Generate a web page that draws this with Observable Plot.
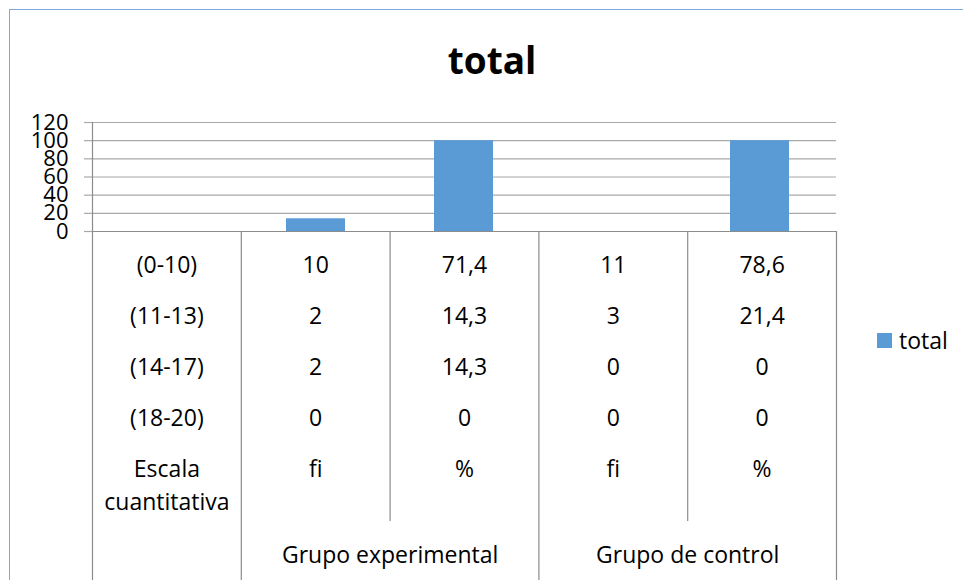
<!DOCTYPE html>
<html><head><meta charset="utf-8">
<script src="https://cdn.jsdelivr.net/npm/d3@7"></script>
<script src="https://cdn.jsdelivr.net/npm/@observablehq/plot@0.6"></script>
<style>
body{margin:0;background:#fff;overflow:hidden;font-family:"Open Sans",sans-serif;color:#000;}
#chart{position:relative;width:963px;height:580px;overflow:hidden;background:#fff;}
#frame{position:absolute;left:9px;top:9px;width:1200px;height:1200px;border-left:1.5px solid #7ea9de;border-top:1.5px solid #7ea9de;}
#title{position:absolute;left:0;width:984px;top:41px;text-align:center;font-weight:700;font-size:37px;line-height:1;}
#chartTop{position:absolute;left:0;top:0;}
#chartBottom{position:absolute;left:0;top:231px;}
#legend{position:absolute;left:877px;top:325px;display:flex;align-items:center;font-size:23px;line-height:30px;}
#legend .sw{width:15px;height:15px;background:#5b9bd5;margin-right:7px;display:inline-block;}
</style></head>
<body>
<div id="chart">
<div id="frame"></div>
<div id="title">total</div>
<div id="chartTop"></div>
<div id="chartBottom"></div>
<div id="legend"><span class="sw"></span><span>total</span></div>
</div>
<script>
// ---- data ----
const categories = ["Escala", "GE fi", "GE %", "GC fi", "GC %"];
const totals = [null, 14, 100, null, 100];
const yTicks = [0, 20, 40, 60, 80, 100, 120];
const rowLabels = ["(0-10)", "(11-13)", "(14-17)", "(18-20)", "Escala\ncuantitativa"];
const expFi = ["10", "2", "2", "0", "fi"];
const expPct = ["71,4", "14,3", "14,3", "0", "%"];
const ctrlFi = ["11", "3", "0", "0", "fi"];
const ctrlPct = ["78,6", "21,4", "0", "0", "%"];
const groups = ["Grupo experimental", "Grupo de control"];
const groupSpans = [[1, 3], [3, 5]];
const fullDividers = [0, 1, 3, 5];
const shortDividers = [2, 4];

// ---- derived tables ----
const barData = categories.map((c, i) => ({cat: c, total: totals[i]})).filter(d => d.total != null);
const columns = [rowLabels, expFi, expPct, ctrlFi, ctrlPct];
const cells = [];
columns.forEach((col, ci) => col.forEach((label, ri) => cells.push({col: ci, row: ri, label})));
const groupData = groups.map((g, i) => ({label: g, x: (groupSpans[i][0] + groupSpans[i][1]) / 2}));

const FONT = "Open Sans";
const W = 963, ML = 92, MR = 127;

const plotTop = Plot.plot({
  width: W, height: 241, marginLeft: ML, marginRight: MR, marginTop: 122, marginBottom: 10,
  style: {background: "transparent", overflow: "visible", fontFamily: FONT, color: "#000"},
  x: {type: "band", domain: categories, paddingInner: 0.6, paddingOuter: 0.3, axis: null},
  y: {domain: [0, 120], axis: null},
  marks: [
    Plot.gridY(yTicks, {stroke: "#a8a8a8", strokeOpacity: 1, strokeWidth: 1.2}),
    Plot.axisY(yTicks, {tickSize: 8, tickPadding: 16, stroke: "#a8a8a8", strokeWidth: 1.2, fill: "#000", fontSize: 22, label: null, tickFormat: d => String(d)}),
    Plot.barY(barData, {x: "cat", y: "total", fill: "#5b9bd5"}),
    Plot.ruleY([0], {stroke: "#8c8c8c", strokeWidth: 1.2}),
    Plot.frame({anchor: "left", stroke: "#8c8c8c", strokeWidth: 1.2})
  ]
});
document.getElementById("chartTop").appendChild(plotTop);

const plotBottom = Plot.plot({
  width: W, height: 349, marginLeft: ML, marginRight: MR, marginTop: 0, marginBottom: 0,
  style: {background: "transparent", overflow: "visible", fontFamily: FONT, color: "#000"},
  x: {domain: [0, 5], axis: null},
  y: {type: "point", domain: [0, 1, 2, 3, 4], range: [17, 223], padding: 0, axis: null},
  marks: [
    Plot.ruleX(fullDividers, {x: d => d, stroke: "#8c8c8c", strokeWidth: 1.2}),
    Plot.ruleX(shortDividers, {x: d => d, stroke: "#8c8c8c", strokeWidth: 1.2, insetBottom: 59}),
    Plot.text(cells, {x: d => d.col + 0.5, y: "row", text: "label", fontSize: 23, fill: "#000", lineAnchor: "top", lineHeight: 1.43}),
    Plot.text(groupData, {x: "x", text: "label", frameAnchor: "bottom", dy: -25, fontSize: 23, fill: "#000", lineAnchor: "middle"})
  ]
});
document.getElementById("chartBottom").appendChild(plotBottom);
</script>
</body></html>
